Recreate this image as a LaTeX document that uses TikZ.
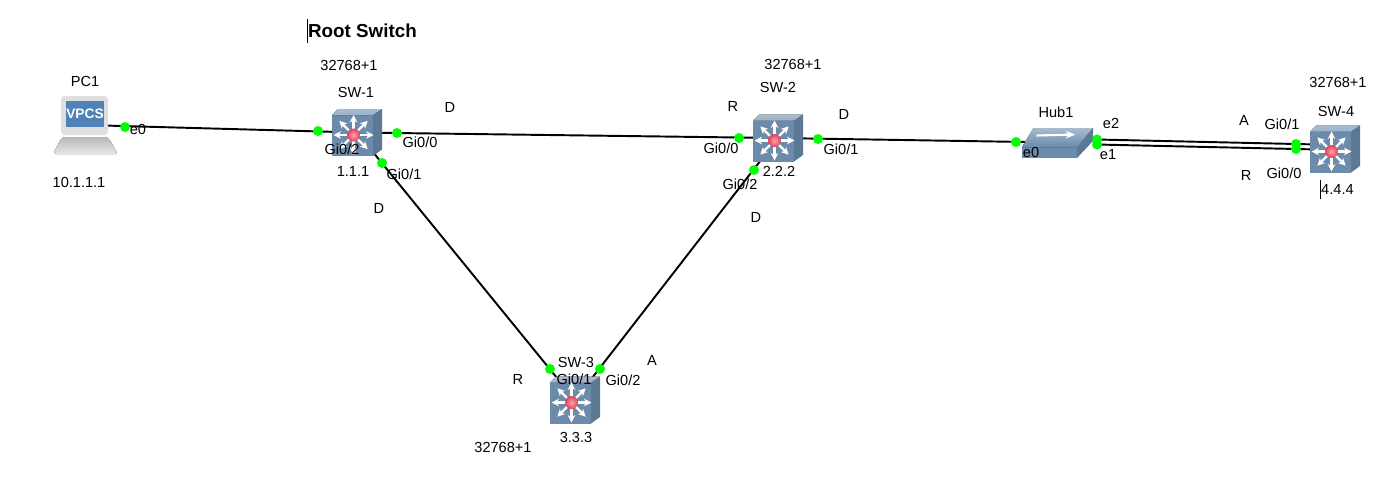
\documentclass[tikz,border=0pt]{standalone}
\usepackage{fontspec}
\setmainfont{Liberation Sans}
\usetikzlibrary{arrows.meta, backgrounds}

\definecolor{swfront}{HTML}{6C8BAB}
\definecolor{swtop}{HTML}{A9BBCF}
\definecolor{swside}{HTML}{5B7895}
\definecolor{vpcsblue}{HTML}{4F83B5}
\definecolor{swled}{HTML}{E0405F}
\newcommand{\cursorbar}{\rule[-.3em]{0.5pt}{1.3em}}

\begin{document}
\begin{tikzpicture}[
                x=0.02cm, y=-0.02cm,
                >=Stealth,
                font=\fontsize{8.3}{9}\selectfont,
                lbl/.style={inner sep=0pt, text=black, yshift=-0.015cm},
                title/.style={inner sep=0pt, font=\fontsize{10.7}{12}\selectfont\bfseries},
                port/.style={circle, fill=green, minimum size=0.2cm, inner sep=0pt},
                link/.style={line width=1.1pt, black},
                mlsw/.style={rectangle, inner sep=0pt, minimum width=1cm, minimum height=0.94cm, path picture={
                    \begin{scope}[shift={(path picture bounding box.center)}]
                        \fill[swfront] (-25,-17.5) rectangle (16,23.5);
                        \fill[top color=swtop, bottom color=swtop!80!swfront] (-25,-17.5) -- (-19,-23.5) -- (25,-23.5) -- (16,-17.5) -- cycle;
                        \fill[swside] (16,-17.5) -- (25,-23.5) -- (25,17) -- (16,23.5) -- cycle;
                        \foreach \a in {0,45,...,315}
                            \draw[white, line width=1.3pt, -{Stealth[length=1.5mm, width=1.5mm]}] (-3.5,2.5) ++(\a:4) -- ++(\a:16);
                        \shade[inner color=red!35!white, outer color=swled] (-3.5,2.5) circle (6.5);
                    \end{scope}}},
                hubbox/.style={rectangle, inner sep=0pt, minimum width=1.42cm, minimum height=0.62cm, path picture={
                    \begin{scope}[shift={(path picture bounding box.center)}]
                        \fill[swfront] (-35.5,4.5) rectangle (19.5,15.5);
                        \fill[top color=swtop, bottom color=swfront] (-35.5,4.5) -- (-24,-14.5) -- (35.5,-14.5) -- (19.5,4.5) -- cycle;
                        \fill[swside] (19.5,4.5) -- (35.5,-14.5) -- (35.5,-1.5) -- (19.5,15.5) -- cycle;
                        \draw[white, line width=1.2pt, -{Stealth[length=2mm, width=1.5mm]}] (-21,-7) -- (18,-8);
                    \end{scope}}},
                pcbox/.style={rectangle, inner sep=0pt, minimum width=1.3cm, minimum height=1.18cm, path picture={
                    \begin{scope}[shift={(path picture bounding box.center)}]
                        \fill[gray!25, rounded corners=2pt] (-24.5,-29) rectangle (22.5,10);
                        \fill[top color=gray!55, bottom color=gray!20, rounded corners=2pt] (-23.5,12) -- (22.5,12) -- (32.5,29) -- (-32.5,29) -- cycle;
                    \end{scope}}},
                vpcs/.style={rectangle, fill=vpcsblue, text=white, minimum width=0.76cm, minimum height=0.52cm, inner sep=0pt, font=\fontsize{7.8}{9}\selectfont\bfseries}
            ]
                \useasboundingbox (0,0) rectangle (1389,495);
                % devices
                \node[pcbox] (pc1) at (85.5,125) {};
                \node[vpcs] (pc1scr) at (85,114) {VPCS};
                \node[mlsw] (sw1) at (357,132.5) {};
                \node[mlsw] (sw2) at (778,138) {};
                \node[mlsw] (sw3) at (575,400) {};
                \node[mlsw] (sw4) at (1335,149) {};
                \node[hubbox] (hub1) at (1057.5,142.5) {};
                % ports
                \node[port] (pc1e0) at (125,127) {};
                \node[port] (sw1g2) at (318,131) {};
                \node[port] (sw1g0) at (397,133) {};
                \node[port] (sw1g1) at (382,163) {};
                \node[port] (sw2g0) at (739,138) {};
                \node[port] (sw2g1) at (818,139) {};
                \node[port] (sw2g2) at (754,170) {};
                \node[port] (sw3g1) at (550,369) {};
                \node[port] (sw3g2) at (600,369) {};
                \node[port] (hube0) at (1016,142) {};
                \node[port] (hube2) at (1097,139.5) {};
                \node[port] (hube1) at (1097,144.5) {};
                \node[port] (sw4g1) at (1296,144) {};
                \node[port] (sw4g0) at (1296,149) {};
                % links
                \begin{scope}[on background layer]
                    \draw[link] (pc1.center) -- (sw1.center);
                    \draw[link] (sw1.center) -- (sw2.center);
                    \draw[link] (sw1.center) -- (sw3.center);
                    \draw[link] (sw2.center) -- (sw3.center);
                    \draw[link] (sw2.center) -- (hub1.center);
                    \draw[link, shorten >=-0.3cm] (hube2.center) -- (sw4g1.center);
                    \draw[link, shorten >=-0.3cm] (hube1.center) -- (sw4g0.center);
                \end{scope}
                % texts
                \node[title] (roottxt) at (362,31) {\cursorbar Root Switch};
                \node[lbl] (pc1name) at (85,81) {PC1};
                \node[lbl] (pc1ip) at (79,182) {10.1.1.1};
                \node[lbl] (pc1e0txt) at (138,129) {e0};
                \node[lbl] (sw1prio) at (349,65) {32768+1};
                \node[lbl] (sw1name) at (356,92) {SW-1};
                \node[lbl] (sw1id) at (353,171) {1.1.1};
                \node[lbl] (sw1g2txt) at (342,149) {Gi0/2};
                \node[lbl] (sw1g0txt) at (420,142) {Gi0/0};
                \node[lbl] (sw1g1txt) at (404,174) {Gi0/1};
                \node[lbl] (sw1g0role) at (450,107) {D};
                \node[lbl] (sw1g1role) at (379,208) {D};
                \node[lbl] (sw2prio) at (793,64) {32768+1};
                \node[lbl] (sw2name) at (778,87) {SW-2};
                \node[lbl] (sw2id) at (779,171) {2.2.2};
                \node[lbl] (sw2g0txt) at (721,148) {Gi0/0};
                \node[lbl] (sw2g1txt) at (841,149) {Gi0/1};
                \node[lbl] (sw2g2txt) at (740,184) {Gi0/2};
                \node[lbl] (sw2g0role) at (733,106) {R};
                \node[lbl] (sw2g1role) at (844,114) {D};
                \node[lbl] (sw2g2role) at (756,217) {D};
                \node[lbl] (sw3name) at (576,362) {SW-3};
                \node[lbl] (sw3id) at (576,437) {3.3.3};
                \node[lbl] (sw3prio) at (503,447) {32768+1};
                \node[lbl] (sw3g1txt) at (574,379) {Gi0/1};
                \node[lbl] (sw3g2txt) at (623,380) {Gi0/2};
                \node[lbl] (sw3g1role) at (518,379) {R};
                \node[lbl] (sw3g2role) at (652,360) {A};
                \node[lbl] (hubname) at (1056,112) {Hub1};
                \node[lbl] (hube0txt) at (1031,152) {e0};
                \node[lbl] (hube2txt) at (1111,123) {e2};
                \node[lbl] (hube1txt) at (1108,154) {e1};
                \node[lbl] (sw4prio) at (1338,82) {32768+1};
                \node[lbl] (sw4name) at (1336,111) {SW-4};
                \node[lbl] (sw4id) at (1337,189) {\cursorbar 4.4.4};
                \node[lbl] (sw4g1txt) at (1282,124) {Gi0/1};
                \node[lbl] (sw4g0txt) at (1284,173) {Gi0/0};
                \node[lbl] (sw4g1role) at (1244,120) {A};
                \node[lbl] (sw4g0role) at (1246,175) {R};
            \end{tikzpicture}
\end{document}
